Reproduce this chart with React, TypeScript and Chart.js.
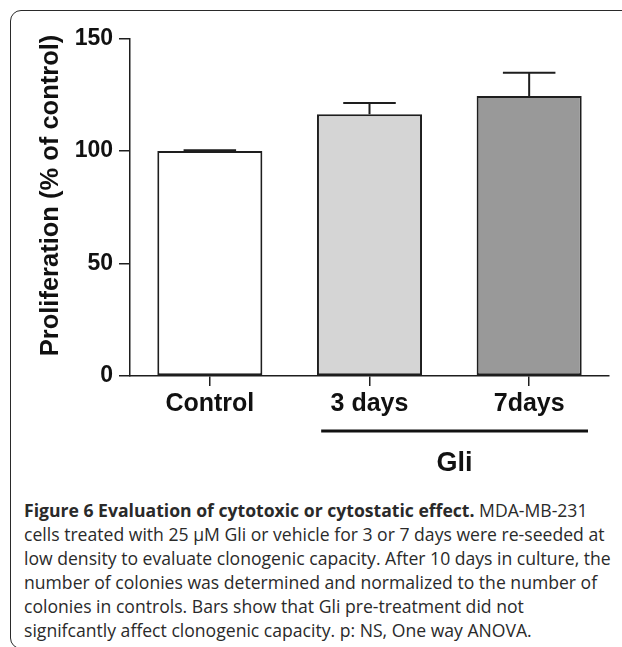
import React, { useEffect, useRef } from "react";
import { Chart, registerables } from "chart.js";

Chart.register(...registerables);

const categories = ["Control", "3 days", "7days"];
const proliferation = [100, 116.3, 124.4];
const sem = [0.3, 5.0, 10.4];
const barColors = ["#ffffff", "#d5d5d5", "#999999"];
const yTickValues = [0, 50, 100, 150];
const groupLabel = "Gli";
const groupMembers = [1, 2];
const yTitle = "Proliferation (% of control)";

const FONT = "'Liberation Sans', Arial, Helvetica, sans-serif";
const INK = "#1e1e1e";

const errorBarPlugin = {
  id: "errorBars",
  afterDatasetsDraw(chart: any) {
    const ctx = chart.ctx;
    const meta = chart.getDatasetMeta(0);
    const y = chart.scales.y;
    ctx.save();
    ctx.strokeStyle = INK;
    ctx.lineWidth = 2;
    meta.data.forEach((bar: any, i: number) => {
      const top = y.getPixelForValue(proliferation[i] + sem[i]);
      const half = bar.width * 0.25;
      ctx.beginPath();
      ctx.moveTo(bar.x, bar.y);
      ctx.lineTo(bar.x, top);
      ctx.moveTo(bar.x - half, top);
      ctx.lineTo(bar.x + half, top);
      ctx.stroke();
    });
    ctx.restore();
  },
};

const annotationPlugin = {
  id: "annotations",
  afterDraw(chart: any) {
    const ctx = chart.ctx;
    const x = chart.scales.x;
    const meta = chart.getDatasetMeta(0);
    const bw = meta.data[0].width;
    const c1 = x.getPixelForValue(groupMembers[0]);
    const c2 = x.getPixelForValue(groupMembers[groupMembers.length - 1]);
    const left = c1 - bw * 0.46;
    const right = c2 + bw * 0.56;
    ctx.save();
    ctx.strokeStyle = "#111";
    ctx.lineWidth = 3;
    ctx.beginPath();
    ctx.moveTo(left, 431);
    ctx.lineTo(right, 431);
    ctx.stroke();
    ctx.fillStyle = "#111";
    ctx.font = `bold 27px ${FONT}`;
    ctx.textAlign = "center";
    ctx.textBaseline = "alphabetic";
    ctx.fillText(groupLabel, (left + right) / 2, 470.5);

    // y-axis title
    ctx.translate(57.5, 195.5);
    ctx.rotate(-Math.PI / 2);
    ctx.font = `bold 25.5px ${FONT}`;
    ctx.fillText(yTitle, 0, 0);
    ctx.restore();
  },
};

export default function App() {
  const canvasRef = useRef<HTMLCanvasElement | null>(null);

  useEffect(() => {
    if (!canvasRef.current) return;
    const chart = new Chart(canvasRef.current, {
      type: "bar",
      data: {
        labels: categories,
        datasets: [
          {
            data: proliferation,
            backgroundColor: barColors,
            borderColor: INK,
            borderWidth: 2,
            borderSkipped: false,
            categoryPercentage: 1,
            barPercentage: 0.658,
          },
        ],
      },
      options: {
        animation: false,
        responsive: false,
        maintainAspectRatio: false,
        layout: { padding: { top: 38.5, right: 13, bottom: 44, left: 0 } },
        plugins: {
          legend: { display: false },
          tooltip: { enabled: false },
          title: { display: false },
        },
        scales: {
          x: {
            offset: true,
            grid: {
              offset: false,
              drawOnChartArea: false,
              drawTicks: true,
              tickLength: 10,
              color: INK,
              lineWidth: 1.5,
            },
            border: { display: true, color: INK, width: 1.5 },
            ticks: {
              color: "#111",
              padding: 3,
              font: { family: FONT, weight: "bold", size: 25 },
              maxRotation: 0,
            },
            afterFit(scale: any) {
              scale.height = 60;
            },
          },
          y: {
            min: 0,
            max: 150,
            grid: {
              drawOnChartArea: false,
              drawTicks: true,
              tickLength: 11,
              color: INK,
              lineWidth: 1.5,
            },
            border: { display: true, color: INK, width: 1.5 },
            ticks: {
              stepSize: 50,
              color: "#111",
              padding: 6,
              font: { family: FONT, weight: "bold", size: 23 },
              callback: (v: any) => (yTickValues.includes(Number(v)) ? String(v) : ""),
            },
            afterFit(scale: any) {
              scale.width = 130;
            },
          },
        },
      },
      plugins: [errorBarPlugin, annotationPlugin],
    });
    return () => chart.destroy();
  }, []);

  return (
    <div
      style={{
        position: "absolute",
        left: 0,
        top: 0,
        width: 622,
        height: 647,
        overflow: "hidden",
        background: "#fff",
      }}
    >
      <div
        style={{
          position: "absolute",
          left: 10,
          top: 10,
          width: 1000,
          height: 639,
          border: "1.5px solid #2a2a2a",
          borderRadius: "11px 0 0 11px",
          boxSizing: "border-box",
        }}
      />
      <canvas
        ref={canvasRef}
        width={622}
        height={480}
        style={{ position: "absolute", left: 0, top: 0, width: 622, height: 480 }}
      />
      <div
        style={{
          position: "absolute",
          left: 24,
          top: 498,
          fontFamily: "'Open Sans', 'Noto Sans', sans-serif",
          fontSize: 17.6,
          lineHeight: "24px",
          color: "#2a2a2a",
          whiteSpace: "nowrap",
        }}
      >
        <b>Figure 6 Evaluation of cytotoxic or cytostatic effect.</b> MDA-MB-231
        <br />
        cells treated with 25 µM Gli or vehicle for 3 or 7 days were re-seeded at
        <br />
        low density to evaluate clonogenic capacity. After 10 days in culture, the
        <br />
        number of colonies was determined and normalized to the number of
        <br />
        colonies in controls. Bars show that Gli pre-treatment did not
        <br />
        signifcantly affect clonogenic capacity. p: NS, One way ANOVA.
      </div>
    </div>
  );
}
